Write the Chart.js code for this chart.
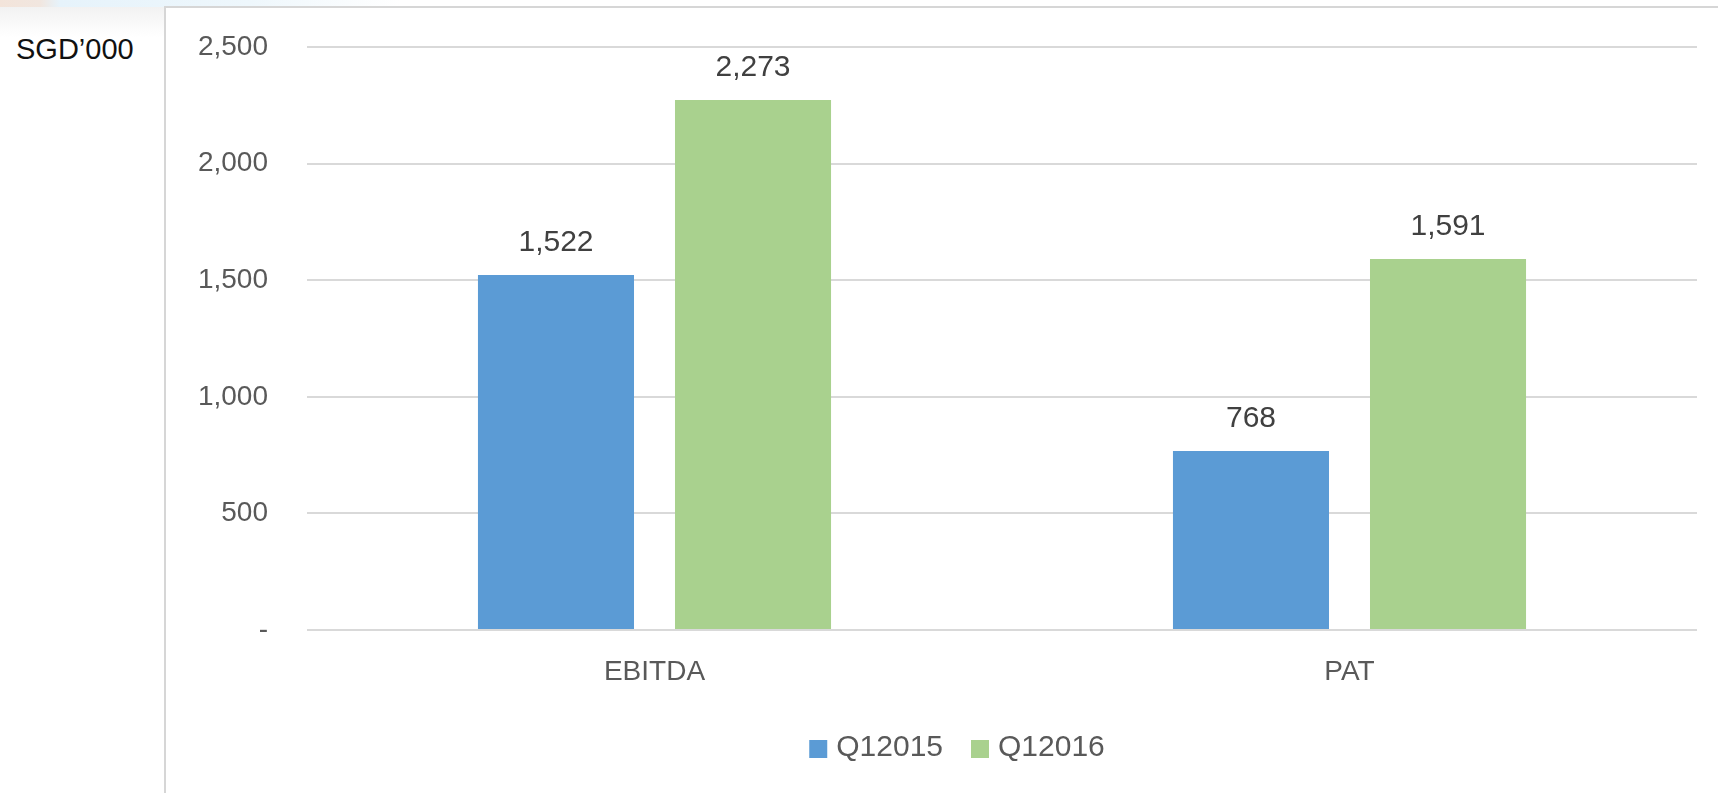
<!DOCTYPE html>
<html>
<head>
<meta charset="utf-8">
<script src="https://cdn.jsdelivr.net/npm/chart.js@4/dist/chart.umd.min.js"></script>
<style>
  html, body { margin: 0; padding: 0; background: #ffffff; overflow: hidden; width: 1718px; height: 793px; }
  #band { position: absolute; left: 0; top: 0; width: 1718px; height: 7px;
    background: linear-gradient(to right, #f3e4da 0px, #f1e6df 40px, #e6f3fb 60px, #eef7fc 250px, #ffffff 400px); }
  #side { position: absolute; left: 0; top: 7px; width: 164px; height: 30px;
    background: linear-gradient(to bottom, #f2f2f2, #ffffff); }
  #unit { position: absolute; left: 16px; top: 31px; font-family: "Liberation Sans", Arial, sans-serif;
    font-size: 29px; color: #111; line-height: 36px; }
  #box { position: absolute; left: 164px; top: 6px; width: 1600px; height: 800px;
    border-left: 2px solid #d6d6d6; border-top: 2px solid #d6d6d6; background: #fff; }
  #wrap { position: absolute; left: 166px; top: 9px; width: 1582px; height: 784px; }
</style>
</head>
<body>
<div id="band"></div>
<div id="side"></div>
<div id="unit">SGD’000</div>
<div id="box"></div>
<div id="wrap"><canvas id="c" width="1582" height="784"></canvas></div>
<script>
const categories = ["EBITDA", "PAT"];
const seriesNames = ["Q12015", "Q12016"];
const q12015 = [1522, 768];
const q12016 = [2273, 1591];
const yTicks = [0, 500, 1000, 1500, 2000, 2500];

const fmt = v => v === 0 ? "-" : v.toLocaleString("en-US");
const FONT = '"Liberation Sans", Arial, sans-serif';

const dataLabels = {
  id: "dataLabels",
  afterDatasetsDraw(chart) {
    const ctx = chart.ctx;
    ctx.save();
    ctx.font = "30px " + FONT;
    ctx.fillStyle = "#404040";
    ctx.textAlign = "center";
    ctx.textBaseline = "middle";
    chart.data.datasets.forEach((ds, i) => {
      chart.getDatasetMeta(i).data.forEach((bar, j) => {
        ctx.fillText(fmt(ds.data[j]), bar.x, bar.y - 32);
      });
    });
    ctx.restore();
  }
};

const bottomLegend = {
  id: "bottomLegend",
  afterDraw(chart) {
    const ctx = chart.ctx;
    ctx.save();
    ctx.font = "30px " + FONT;
    ctx.textBaseline = "middle";
    ctx.textAlign = "left";
    const box = 18, gap = 9, spacing = 28;
    const items = chart.data.datasets.map(ds => ({ text: ds.label, color: ds.backgroundColor, w: ctx.measureText(ds.label).width }));
    const total = items.reduce((a, it) => a + box + gap + it.w, 0) + spacing * (items.length - 1);
    let x = 791 - total / 2;
    const cy = 740;
    items.forEach(it => {
      ctx.fillStyle = it.color;
      ctx.fillRect(x, cy - box / 2, box, box);
      x += box + gap;
      ctx.fillStyle = "#595959";
      ctx.fillText(it.text, x, cy - 1);
      x += it.w + spacing;
    });
    ctx.restore();
  }
};

new Chart(document.getElementById("c"), {
  type: "bar",
  data: {
    labels: categories,
    datasets: [
      { label: seriesNames[0], data: q12015, backgroundColor: "#5b9bd5", categoryPercentage: 0.567, barPercentage: 0.792 },
      { label: seriesNames[1], data: q12016, backgroundColor: "#a9d18e", categoryPercentage: 0.567, barPercentage: 0.792 }
    ]
  },
  options: {
    responsive: false,
    animation: false,
    layout: { padding: { top: 38, right: 51, left: 0, bottom: 88 } },
    plugins: {
      tooltip: { enabled: false },
      legend: { display: false }
    },
    scales: {
      x: {
        grid: { display: false, drawTicks: false },
        border: { display: false },
        ticks: { color: "#595959", font: { family: FONT, size: 28 }, padding: 25 },
        afterFit: s => { s.height = 75; }
      },
      y: {
        min: 0, max: 2500,
        afterBuildTicks: s => { s.ticks = yTicks.map(v => ({ value: v })); },
        grid: { color: "#d9d9d9", lineWidth: 2, drawTicks: false },
        border: { display: false },
        ticks: { color: "#595959", font: { family: FONT, size: 28 }, padding: 39, callback: v => fmt(v) },
        afterFit: s => { s.width = 141; s.paddingTop = 17; s.paddingBottom = 17; }
      }
    }
  },
  plugins: [dataLabels, bottomLegend]
});
</script>
</body>
</html>
